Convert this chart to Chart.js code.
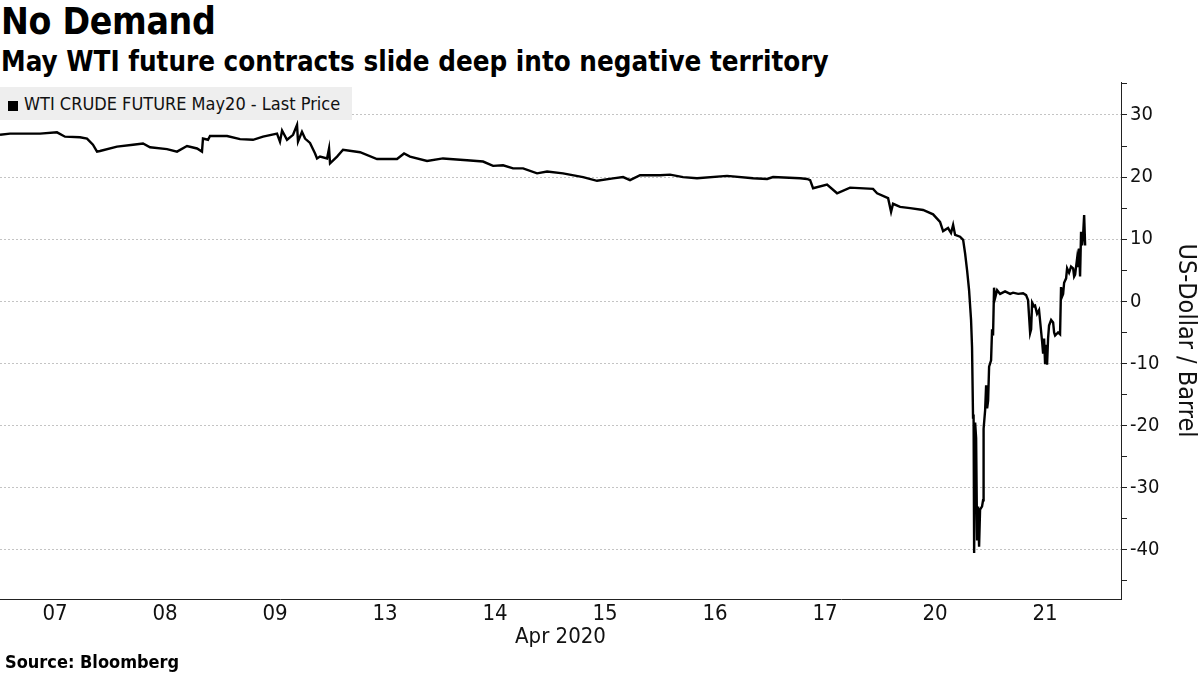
<!DOCTYPE html>
<html>
<head>
<meta charset="utf-8">
<script src="https://cdn.jsdelivr.net/npm/chart.js@4.4.1/dist/chart.umd.min.js"></script>
<style>
  html, body { margin: 0; padding: 0; background: #fff; }
  body { width: 1200px; height: 675px; position: relative; overflow: hidden; font-family: "DejaVu Sans Condensed", "DejaVu Sans", sans-serif; color: #000; }
  #title { position: absolute; left: 1px; top: 2px; font-size: 37px; font-weight: bold; line-height: 40px; letter-spacing: -0.3px; }
  #subtitle { position: absolute; left: 1px; top: 45px; font-size: 27.5px; font-weight: bold; line-height: 32px; }
  #wrap { position: absolute; left: 0; top: 0; width: 1200px; height: 675px; }
  #legend { position: absolute; left: 0; top: 87px; width: 352px; height: 33px; background: #eeeeee; font-size: 18px; line-height: 33px; color: #111; }
  #legend .sq { display: inline-block; width: 10px; height: 10px; background: #000; margin: 0 6px 0 8px; vertical-align: -1px; }
  #source { position: absolute; left: 5px; top: 651px; font-size: 18px; font-weight: bold; line-height: 22px; }
</style>
</head>
<body>
<div id="title">No Demand</div>
<div id="subtitle">May WTI future contracts slide deep into negative territory</div>
<div id="wrap"><canvas id="chart"></canvas></div>
<div id="legend"><span class="sq"></span>WTI CRUDE FUTURE May20 - Last Price</div>
<div id="source">Source: Bloomberg</div>
<script>
// Tage (Handelssitzungen), Beschriftung in der Mitte jeder Sitzung
const dayLabels = ['07', '08', '09', '13', '14', '15', '16', '17', '20', '21'];
const dayTicks = [0.5, 1.5, 2.5, 3.5, 4.5, 5.5, 6.5, 7.5, 8.5, 9.5];

// Position in Handelstagen seit Start (07. April)
const sessionPos = [
  0.000, 0.091, 0.182, 0.364, 0.518, 0.591, 0.727, 0.791, 0.845, 0.882,
  0.909, 1.064, 1.209, 1.300, 1.364, 1.518, 1.609, 1.700, 1.791, 1.836,
  1.845, 1.891, 1.909, 2.064, 2.182, 2.300, 2.391, 2.518, 2.545, 2.564,
  2.609, 2.664, 2.700, 2.709, 2.745, 2.773, 2.818, 2.864, 2.882, 2.909,
  2.973, 2.991, 3.000, 3.064, 3.118, 3.273, 3.427, 3.609, 3.673, 3.727,
  3.882, 4.027, 4.245, 4.391, 4.482, 4.573, 4.664, 4.755, 4.882, 4.973,
  5.118, 5.300, 5.427, 5.573, 5.664, 5.727, 5.818, 6.000, 6.091, 6.209,
  6.336, 6.609, 6.845, 6.973, 7.027, 7.273, 7.336, 7.364, 7.391, 7.518,
  7.609, 7.727, 7.936, 7.973, 8.073, 8.100, 8.118, 8.182, 8.273, 8.391,
  8.482, 8.545, 8.573, 8.618, 8.645, 8.664, 8.682, 8.727, 8.755, 8.773,
  8.791, 8.809, 8.827, 8.836, 8.845, 8.850, 8.855, 8.864, 8.873, 8.882,
  8.891, 8.900, 8.909, 8.927, 8.936, 8.941, 8.955, 8.964, 8.973, 8.982,
  8.991, 9.009, 9.018, 9.027, 9.036, 9.045, 9.064, 9.091, 9.136, 9.182,
  9.209, 9.255, 9.300, 9.327, 9.345, 9.364, 9.373, 9.382, 9.400, 9.409,
  9.427, 9.445, 9.473, 9.482, 9.491, 9.500, 9.509, 9.518, 9.527, 9.536,
  9.555, 9.573, 9.582, 9.591, 9.618, 9.636, 9.645, 9.655, 9.664, 9.673,
  9.691, 9.700, 9.718, 9.736, 9.755, 9.764, 9.773, 9.791, 9.800, 9.809,
  9.818, 9.827, 9.836, 9.845, 9.855, 9.864
];

// Letzter Preis in US-Dollar je Barrel
const lastPrice = [
  26.8, 27.0, 27.0, 27.0, 27.2, 26.5, 26.4, 26.2, 25.2, 24.1,
  24.2, 24.9, 25.2, 25.4, 24.8, 24.5, 24.1, 25.0, 24.6, 24.1,
  26.2, 26.0, 26.6, 26.6, 26.1, 26.0, 26.5, 27.0, 25.7, 27.5,
  26.0, 26.8, 28.4, 25.7, 27.3, 26.2, 25.5, 23.8, 23.0, 23.3,
  23.0, 24.6, 22.2, 23.3, 24.4, 24.0, 22.9, 22.9, 23.8, 23.3,
  22.6, 23.0, 22.7, 22.5, 21.8, 21.9, 21.4, 21.4, 20.6, 20.9,
  20.6, 20.0, 19.4, 19.8, 20.0, 19.5, 20.3, 20.3, 20.4, 20.0,
  19.8, 20.2, 19.8, 19.7, 20.0, 19.8, 19.7, 19.5, 18.2, 18.8,
  17.4, 18.3, 18.1, 17.4, 16.6, 14.4, 15.7, 15.2, 15.0, 14.7,
  14.0, 12.8, 11.3, 11.8, 11.0, 12.3, 10.7, 10.4, 9.9, 7.7,
  5.0, 1.8, -3.0, -7.4, -18.7, -18.2, -40.5, -19.5, -22.0, -38.5,
  -33.0, -39.5, -33.5, -33.0, -32.0, -20.5, -17.5, -13.5, -17.2, -16.0,
  -10.5, -9.5, -4.5, -5.5, 2.2, 0.5, 1.8, 1.2, 1.6, 1.2,
  1.4, 1.2, 1.3, 1.0, 0.2, -5.1, -4.5, -0.2, -0.8, -0.7,
  -2.0, -1.4, -6.5, -8.4, -6.0, -10.1, -7.0, -10.2, -6.0, -3.9,
  -3.0, -3.4, -5.0, -5.5, -5.0, -5.3, 2.3, 0.8, 1.2, 3.0,
  3.7, 5.3, 4.6, 5.6, 5.3, 4.0, 4.3, 6.9, 5.5, 8.5,
  4.0, 11.2, 9.0, 10.5, 13.9, 9.0
];

const points = sessionPos.map((x, i) => ({ x: x, y: lastPrice[i] }));

new Chart(document.getElementById('chart'), {
  type: 'line',
  data: {
    datasets: [{
      label: 'WTI CRUDE FUTURE May20 - Last Price',
      data: points,
      borderColor: '#000',
      borderWidth: 2.4,
      pointRadius: 0,
      tension: 0,
      fill: false
    }]
  },
  options: {
    responsive: true,
    maintainAspectRatio: false,
    animation: false,
    devicePixelRatio: 1,
    layout: { padding: { top: 82, left: 0, right: 0, bottom: 25 } },
    plugins: {
      legend: { display: false },
      tooltip: { enabled: false }
    },
    scales: {
      x: {
        type: 'linear',
        min: 0,
        max: 10.19,
        afterBuildTicks: (scale) => {
          scale.ticks = dayTicks.map(v => ({ value: v }));
        },
        afterFit: (scale) => { scale.height = 51; },
        grid: { display: false, drawTicks: false },
        border: { display: true, color: '#222', width: 1 },
        ticks: {
          autoSkip: false,
          maxRotation: 0,
          padding: 2,
          color: '#111',
          font: { family: 'DejaVu Sans Condensed', size: 22 },
          callback: (value, index) => dayLabels[index]
        },
        title: {
          display: true,
          text: 'Apr 2020',
          color: '#111',
          padding: 0,
          font: { family: 'DejaVu Sans Condensed', size: 22 }
        }
      },
      y: {
        position: 'right',
        min: -47.9,
        max: 35.3,
        afterBuildTicks: (scale) => {
          const t = [];
          for (let v = -45; v <= 35; v += 5) t.push({ value: v });
          scale.ticks = t;
        },
        afterFit: (scale) => { scale.width = 79; },
        grid: {
          color: (ctx) => (ctx.tick && ctx.tick.value % 10 === 0) ? '#c4c4c4' : 'rgba(0,0,0,0)',
          tickColor: '#222',
          tickLength: 6,
          drawTicks: true
        },
        border: { display: true, color: '#222', width: 1, dash: [2, 2] },
        ticks: {
          padding: 3,
          color: '#111',
          font: { family: 'DejaVu Sans Condensed', size: 20 },
          callback: (value) => (value % 10 === 0 ? String(value) : '')
        },
        title: {
          display: true,
          text: 'US-Dollar / Barrel',
          color: '#111',
          padding: { top: 0, bottom: 0 },
          font: { family: 'DejaVu Sans Condensed', size: 25 }
        }
      }
    }
  }
});
</script>
</body>
</html>
